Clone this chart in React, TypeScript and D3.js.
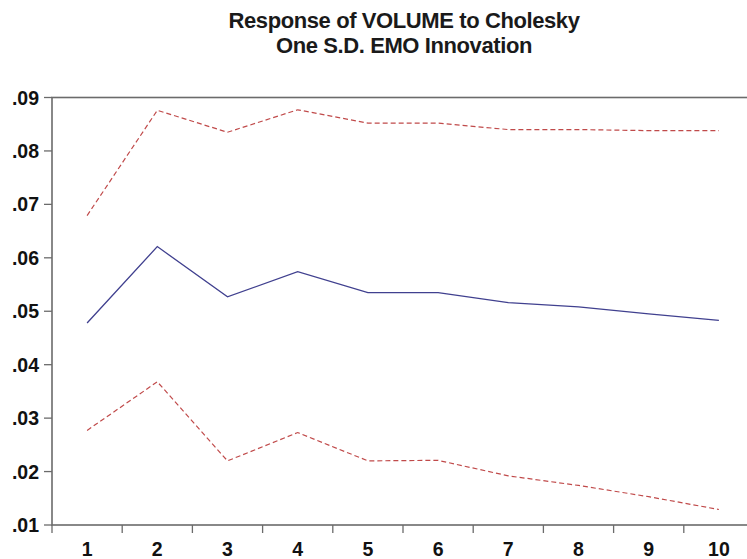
import React from "react";
import * as d3 from "d3";

const periods = ["1", "2", "3", "4", "5", "6", "7", "8", "9", "10"];
const response = [0.0478, 0.0621, 0.0527, 0.0574, 0.0535, 0.0535, 0.0516, 0.0508, 0.0495, 0.0483];
const upperBand = [0.0679, 0.0876, 0.0835, 0.0877, 0.0852, 0.0852, 0.0840, 0.0840, 0.0838, 0.0838];
const lowerBand = [0.0277, 0.0368, 0.0220, 0.0273, 0.0220, 0.0221, 0.0192, 0.0174, 0.0153, 0.0129];
const yTicks = [0.01, 0.02, 0.03, 0.04, 0.05, 0.06, 0.07, 0.08, 0.09];
const titleLines = ["Response of VOLUME to Cholesky", "One S.D. EMO Innovation"];

const W = 747;
const H = 559;
const left = 52;
const right = 754;
const top = 97.5;
const bottom = 525;

export default function App() {
  const x = d3.scaleBand<string>().domain(periods).range([left, right]).padding(0);
  const y = d3.scaleLinear().domain([0.01, 0.09]).range([bottom, top]);
  const cx = (i: number) => (x(periods[i]) as number) + x.bandwidth() / 2;
  const line = d3
    .line<number>()
    .x((_, i) => cx(i))
    .y((d) => y(d));
  const fmt = (v: number) => d3.format(".2f")(v).replace(/^0/, "");
  const font = "'Liberation Sans', Arial, sans-serif";
  const axisColor = "#6b6b6b";
  return (
    <svg
      width={W}
      height={H}
      style={{ position: "absolute", left: 0, top: 0, background: "#fff" }}
      fontFamily={font}
    >
      <rect x={0} y={0} width={W} height={H} fill="#fff" />
      {titleLines.map((t, i) => (
        <text
          key={t}
          x={404}
          y={28 + i * 25}
          textAnchor="middle"
          fontSize={22}
          fontWeight="bold"
          letterSpacing={-0.4}
          fill="#1a1a1a"
        >
          {t}
        </text>
      ))}
      <rect x={left} y={top} width={right - left} height={bottom - top} fill="none" stroke={axisColor} strokeWidth={1.6} />
      {yTicks.map((t) => (
        <g key={t}>
          <line x1={left - 8} x2={left} y1={y(t)} y2={y(t)} stroke={axisColor} strokeWidth={1.3} />
          <text x={39} y={y(t)} dy="0.36em" textAnchor="end" fontSize={19.5} fontWeight="bold" fill="#111">
            {fmt(t)}
          </text>
        </g>
      ))}
      {periods.map((p, i) => (
        <g key={p}>
          <line
            x1={x(p) as number}
            x2={x(p) as number}
            y1={bottom}
            y2={bottom + 8}
            stroke={axisColor}
            strokeWidth={1.3}
          />
          <text x={cx(i)} y={556} textAnchor="middle" fontSize={19.5} fontWeight="bold" fill="#111">
            {p}
          </text>
        </g>
      ))}
      <path d={line(upperBand) || ""} fill="none" stroke="#c04a4a" strokeWidth={1.2} strokeDasharray="5,3" />
      <path d={line(lowerBand) || ""} fill="none" stroke="#c04a4a" strokeWidth={1.2} strokeDasharray="5,3" />
      <path d={line(response) || ""} fill="none" stroke="#40408f" strokeWidth={1.3} />
    </svg>
  );
}
